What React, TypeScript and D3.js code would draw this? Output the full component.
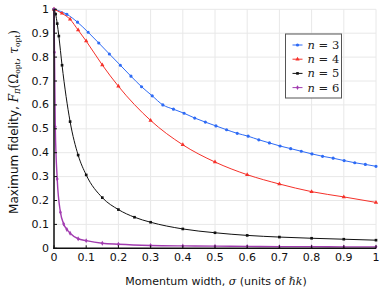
import React from 'react';
import * as d3 from 'd3';

const W = 387;
const H = 298;

// n = 3
const sigma3 = [0, 0.04, 0.073, 0.106, 0.139, 0.172, 0.206, 0.239, 0.272, 0.305, 0.338, 0.371, 0.404, 0.437, 0.47, 0.503, 0.536, 0.569, 0.603, 0.636, 0.669, 0.702, 0.735, 0.768, 0.801, 0.834, 0.867, 0.901, 0.934, 0.967, 1.0];
const fid3 = [1, 0.979, 0.946, 0.904, 0.859, 0.813, 0.766, 0.72, 0.676, 0.638, 0.6, 0.582, 0.565, 0.545, 0.528, 0.512, 0.496, 0.481, 0.469, 0.454, 0.441, 0.428, 0.417, 0.406, 0.395, 0.385, 0.377, 0.367, 0.358, 0.351, 0.343];

// n = 4
const sigma4 = [0, 0.025, 0.05, 0.075, 0.1, 0.15, 0.2, 0.3, 0.4, 0.5, 0.6, 0.7, 0.8, 0.9, 1.0];
const fid4 = [1, 0.983, 0.958, 0.913, 0.867, 0.767, 0.678, 0.535, 0.433, 0.361, 0.308, 0.269, 0.237, 0.215, 0.192];

// n = 5
const sigma5 = [0, 0.005, 0.01, 0.015, 0.025, 0.05, 0.075, 0.1, 0.15, 0.2, 0.25, 0.3, 0.4, 0.5, 0.6, 0.7, 0.8, 0.9, 1.0];
const fid5 = [1, 0.98, 0.94, 0.888, 0.766, 0.53, 0.39, 0.307, 0.212, 0.162, 0.13, 0.109, 0.081, 0.065, 0.054, 0.047, 0.042, 0.038, 0.034];

// n = 6
const sigma6 = [0, 0.0015, 0.004, 0.01, 0.02, 0.03, 0.04, 0.05, 0.075, 0.1, 0.15, 0.2, 0.3, 0.4, 0.5, 0.6, 0.7, 0.8, 0.9, 1.0];
const fid6 = [1, 0.82, 0.509, 0.29, 0.151, 0.102, 0.079, 0.063, 0.04, 0.032, 0.021, 0.017, 0.012, 0.01, 0.009, 0.008, 0.007, 0.007, 0.006, 0.006];

const xTicks = [0, 0.1, 0.2, 0.3, 0.4, 0.5, 0.6, 0.7, 0.8, 0.9, 1];
const yTicks = [0, 0.1, 0.2, 0.3, 0.4, 0.5, 0.6, 0.7, 0.8, 0.9, 1];

const series = [
  { label: '3', xs: sigma3, ys: fid3, color: '#2e6bf5', symbol: d3.symbolCircle, size: 8 },
  { label: '4', xs: sigma4, ys: fid4, color: '#f5312a', symbol: d3.symbolTriangle, size: 8 },
  { label: '5', xs: sigma5, ys: fid5, color: '#111111', symbol: d3.symbolSquare, size: 7 },
  { label: '6', xs: sigma6, ys: fid6, color: '#a23cb0', symbol: d3.symbolDiamond, size: 7 },
];

const TICK_FONT = '"DejaVu Sans", sans-serif';
const MATH_FONT = '"DejaVu Serif", "Liberation Serif", serif';

export default function App() {
  const x = d3.scaleLinear().domain([0, 1]).range([54, 376]);
  const y = d3.scaleLinear().domain([0, 1]).range([248.3, 9.3]);

  const line = d3
    .line<[number, number]>()
    .x((d) => x(d[0]))
    .y((d) => y(d[1]))
    .curve(d3.curveMonotoneX);

  const legendX = 285.5;
  const legendY = 34;

  return (
    <svg
      width={W}
      height={H}
      style={{ position: 'absolute', top: 0, left: 0, background: '#fff' }}
    >
      {/* grid */}
      <g stroke="#e8e8e8" strokeWidth={1}>
        {xTicks.map((t) => (
          <line key={`gx${t}`} x1={x(t)} x2={x(t)} y1={y(0)} y2={y(1)} />
        ))}
        {yTicks.map((t) => (
          <line key={`gy${t}`} x1={x(0)} x2={x(1)} y1={y(t)} y2={y(t)} />
        ))}
      </g>

      {/* series */}
      {series.map((s) => {
        const pts: [number, number][] = s.xs.map((v, i) => [v, s.ys[i]]);
        const sym = d3.symbol().type(s.symbol).size(s.size)();
        return (
          <g key={s.label}>
            <path d={line(pts) ?? ''} fill="none" stroke={s.color} strokeWidth={s.label === '6' ? 1.4 : 1} />
            {pts.map((p, i) => (
              <path
                key={i}
                d={sym ?? ''}
                transform={`translate(${x(p[0])},${y(p[1])})`}
                fill={s.color}
              />
            ))}
          </g>
        );
      })}

      {/* axes */}
      <g stroke="#111" strokeWidth={1.5}>
        <line x1={x(0)} x2={x(0)} y1={y(0) + 0.75} y2={y(1)} />
        <line x1={x(0) - 0.75} x2={x(1)} y1={y(0)} y2={y(0)} />
      </g>
      <g stroke="#111" strokeWidth={1}>
        {xTicks.map((t) => (
          <line key={`tx${t}`} x1={x(t)} x2={x(t)} y1={y(0)} y2={y(0) - 3} />
        ))}
        {yTicks.map((t) => (
          <line key={`ty${t}`} x1={x(0)} x2={x(0) + 3} y1={y(t)} y2={y(t)} />
        ))}
      </g>

      {/* tick labels */}
      <g fontFamily={TICK_FONT} fontSize={11} fill="#111">
        {xTicks.map((t) => (
          <text key={`lx${t}`} x={x(t)} y={261} textAnchor="middle">
            {d3.format('~g')(t)}
          </text>
        ))}
        {yTicks.map((t) => (
          <text key={`ly${t}`} x={49} y={y(t)} textAnchor="end" dominantBaseline="central">
            {d3.format('~g')(t)}
          </text>
        ))}
      </g>

      {/* axis titles */}
      <text x={216} y={285} textAnchor="middle" fontFamily={TICK_FONT} fontSize={11} fill="#111">
        Momentum width,{' '}
        <tspan fontFamily={MATH_FONT} fontStyle="italic">σ</tspan> (units of{' '}
        <tspan fontFamily={MATH_FONT} fontStyle="italic">ℏk</tspan>)
      </text>
      <text
        transform="translate(18,122) rotate(-90)"
        textAnchor="middle"
        fontFamily={TICK_FONT}
        fontSize={12}
        fill="#111"
      >
        Maximum fidelity,{' '}
        <tspan fontFamily={MATH_FONT} fontStyle="italic">F</tspan>
        <tspan fontFamily={MATH_FONT} fontStyle="italic" fontSize={8.5} dy={2}>π</tspan>
        <tspan fontFamily={MATH_FONT} dy={-2}>(Ω</tspan>
        <tspan fontFamily={MATH_FONT} fontSize={7.5} dy={2}>opt</tspan>
        <tspan fontFamily={MATH_FONT} dy={-2}>, </tspan>
        <tspan fontFamily={MATH_FONT} fontStyle="italic">τ</tspan>
        <tspan fontFamily={MATH_FONT} fontSize={7.5} dy={2}>opt</tspan>
        <tspan fontFamily={MATH_FONT} dy={-2}>)</tspan>
      </text>

      {/* legend */}
      <rect x={legendX} y={legendY} width={56} height={64} fill="#fff" stroke="#555" strokeWidth={1} />
      {series.map((s, i) => {
        const ly = legendY + 11 + i * 14.2;
        const sym = d3.symbol().type(s.symbol).size(s.size)();
        return (
          <g key={`leg${s.label}`}>
            <line x1={legendX + 7} x2={legendX + 17} y1={ly} y2={ly} stroke={s.color} strokeWidth={1} />
            <path d={sym ?? ''} transform={`translate(${legendX + 12},${ly})`} fill={s.color} />
            <text x={legendX + 22} y={ly} dominantBaseline="central" fontFamily={MATH_FONT} fontSize={11.5} fill="#222">
              <tspan fontStyle="italic">n</tspan> = {s.label}
            </text>
          </g>
        );
      })}
    </svg>
  );
}
